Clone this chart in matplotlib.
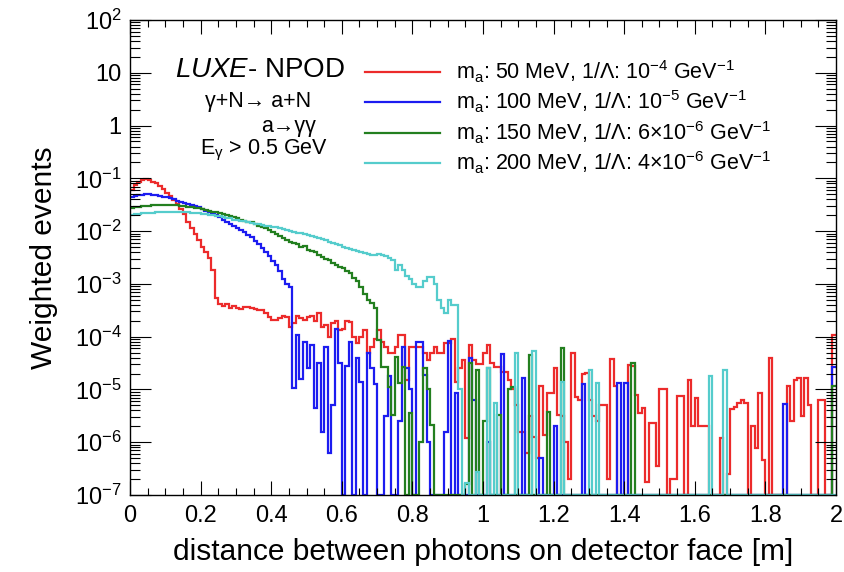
import numpy as np
import matplotlib
matplotlib.use("Agg")
from matplotlib import pyplot as plt
from matplotlib.ticker import FixedLocator, MultipleLocator, LogLocator, NullFormatter

# histogram binning (200 bins between 0 and 2 m)
x_min, x_max, n_bins = 0.0, 2.0, 200
y_min, y_max = 1e-7, 1e2

E = None  # empty bin

# log10 of weighted events per bin
red_log10 = [
    -1.22, -1.12, -1.07, -1.03, -1.02, -1.03, -1.06, -1.08, -1.15, -1.20,
    -1.28, -1.33, -1.41, -1.48, -1.58, -1.68, -1.82, -1.95, -2.05, -2.17,
    -2.30, -2.40, -2.50, -2.73, -3.27, -3.38, -3.42, -3.38, -3.45, -3.42,
    -3.45, -3.48, -3.44, -3.43, -3.45, -3.47, -3.49, -3.50, -3.55, -3.62,
    -3.68, -3.68, -3.65, -3.60, -3.62, -3.81, -3.75, -3.60, -3.65, -3.68,
    -3.62, -3.60, -3.70, -3.55, -3.81, -3.78, -4.00, -3.75, -3.70, -3.87,
    -3.85, -3.70, -3.72, -4.00, -4.12, -4.00, -3.87, -4.30, -4.20, -4.05,
    -3.87, -4.10, -4.20, -4.31, -4.31, -4.20, -3.97, -3.97, -4.82, -4.20,
    -4.20, -4.20, -4.20, -4.30, -4.44, -4.30, -4.20, -4.31, -4.31, -4.12,
    -4.12, -4.05, -4.86, -4.60, -4.44, -5.92, -4.16, -4.44, -4.52, -4.52,
    -4.30, -4.16, -4.50, -4.57, -4.57, -4.67, -4.67, -4.82, -5.00, -5.30,
    -5.80, -5.80, -6.20, -5.50, -5.90, -6.30, -4.93, -5.86, -5.07, -5.07,
    -4.60, -5.48, -5.50, -6.00, -6.70, -4.30, -5.14, -5.20, -4.70, -4.69,
    -5.20, -5.50, -5.60, -5.30, -5.30, -6.70, -4.42, -4.94, E, E,
    E, -4.53, -4.55, -5.10, -5.45, -5.35, -6.75, -5.63, -5.63, -6.45,
    -5.00, -5.00, E, -6.70, -6.70, -5.13, -5.13, E, -4.82, -5.70,
    -5.17, -5.70, -5.70, -5.70, E, E, E, -5.92, E, -6.60,
    -5.37, -5.33, -5.25, -5.20, -5.25, E, -5.70, -6.10, -5.07, -6.33,
    E, -4.40, E, E, E, E, -4.93, -5.60, -4.82, -4.79,
    -5.50, -4.79, -5.30, E, E, -5.20, -5.20, E, E, -3.97,
]

blue_log10 = [
    -1.35, -1.33, -1.32, -1.31, -1.30, -1.30, -1.31, -1.32, -1.33, -1.35,
    -1.36, -1.38, -1.40, -1.42, -1.44, -1.46, -1.48, -1.50, -1.52, -1.55,
    -1.58, -1.61, -1.64, -1.67, -1.70, -1.74, -1.78, -1.82, -1.86, -1.90,
    -1.94, -1.98, -2.02, -2.07, -2.12, -2.18, -2.25, -2.32, -2.40, -2.48,
    -2.56, -2.65, -2.75, -2.90, -3.00, -3.05, -4.97, -3.97, -4.80, -4.10,
    -4.60, -4.15, -5.35, -4.50, -5.80, -4.20, -6.20, -5.30, -3.85, -4.50,
    E, -4.55, -4.10, E, -4.40, -4.85, E, -4.30, -4.60, -4.90,
    E, E, -5.50, -4.75, E, E, -5.60, -4.20, -4.60, -5.00,
    E, -4.10, -4.10, -4.72, -6.00, E, E, E, E, -5.80,
    -4.08, E, -5.06, E, E, E, -4.40, -5.20, E, E,
    E, -6.00, E, E, E, -4.32, E, E, E, E,
    E, -4.78, E, E, E, E, -6.30, E, E, E,
    -5.70, E, E, E, E, E, E, E, -4.90, E,
    E, E, E, E, E, E, E, E, -4.87, E,
    -4.87, E, E, E, E, E, E, E, E, E,
    E, E, E, E, E, E, E, E, E, E,
    E, E, E, E, E, E, E, E, E, E,
    E, E, E, E, E, E, E, E, E, E,
    E, E, E, E, E, -5.27, E, E, E, E,
    E, E, E, E, E, E, E, E, E, -4.57,
]

green_log10 = [
    -1.56, -1.55, -1.54, -1.53, -1.52, -1.52, -1.51, -1.51, -1.50, -1.50,
    -1.50, -1.50, -1.50, -1.51, -1.52, -1.53, -1.54, -1.55, -1.56, -1.57,
    -1.58, -1.60, -1.61, -1.63, -1.64, -1.66, -1.67, -1.69, -1.71, -1.73,
    -1.76, -1.78, -1.80, -1.82, -1.83, -1.86, -1.90, -1.92, -1.94, -1.98,
    -2.02, -2.05, -2.10, -2.13, -2.16, -2.20, -2.22, -2.25, -2.30, -2.28,
    -2.35, -2.38, -2.40, -2.45, -2.49, -2.52, -2.55, -2.60, -2.65, -2.68,
    -2.70, -2.75, -2.80, -2.88, -2.95, -3.05, -3.20, -3.30, -3.36, -3.45,
    -4.06, -4.57, -4.57, -4.95, -5.48, -4.38, -4.87, -4.57, E, -5.45,
    E, E, -6.00, -4.60, -5.00, -5.67, E, E, E, E,
    E, E, E, E, E, -6.80, -4.50, E, -4.63, E,
    -5.60, -4.60, E, E, -5.48, E, E, -5.00, -4.95, E,
    E, E, E, -4.34, E, E, E, E, -5.42, E,
    E, E, -4.21, E, E, E, E, E, E, E,
    E, E, E, E, E, E, E, E, E, E,
    E, E, -4.50, E, E, E, E, E, E, E,
    E, E, E, E, E, E, E, E, E, E,
    E, E, E, E, E, E, E, E, E, E,
    E, E, E, E, E, E, E, E, E, E,
    E, E, E, E, E, E, E, E, E, E,
    E, E, E, E, E, E, E, E, E, -4.93,
]

cyan_log10 = [
    -1.69, -1.68, -1.67, -1.66, -1.66, -1.65, -1.65, -1.64, -1.64, -1.63,
    -1.63, -1.63, -1.63, -1.63, -1.63, -1.64, -1.64, -1.65, -1.65, -1.66,
    -1.67, -1.68, -1.69, -1.70, -1.71, -1.72, -1.73, -1.75, -1.76, -1.78,
    -1.79, -1.80, -1.81, -1.82, -1.84, -1.86, -1.87, -1.88, -1.90, -1.91,
    -1.92, -1.93, -1.95, -1.96, -1.98, -1.99, -2.01, -2.03, -2.04, -2.06,
    -2.08, -2.10, -2.12, -2.13, -2.15, -2.17, -2.20, -2.22, -2.25, -2.27,
    -2.30, -2.32, -2.34, -2.36, -2.38, -2.40, -2.42, -2.44, -2.45, -2.46,
    -2.44, -2.46, -2.48, -2.50, -2.55, -2.73, -2.65, -2.73, -2.85, -2.90,
    -3.00, -3.05, -3.05, -2.95, -2.87, -2.87, -3.00, -3.30, -3.45, -3.55,
    -3.30, -3.40, -3.40, -5.00, E, -6.77, E, E, -6.57, E,
    E, -4.60, E, -5.25, E, E, E, E, E, -4.30,
    E, E, E, E, -4.28, E, E, E, E, E,
    E, E, -4.86, E, E, E, E, E, E, E,
    -4.63, E, -4.88, E, E, E, E, E, E, E,
    E, E, E, E, E, E, E, E, E, E,
    E, E, E, E, E, E, E, E, E, E,
    E, E, E, E, -4.74, E, E, E, -4.63, E,
    E, E, E, E, E, E, E, E, E, E,
    E, E, E, E, E, E, E, E, E, E,
    E, E, E, E, E, E, E, E, E, E,
]

labels = [
    r"m$_\mathregular{a}$: 50 MeV, 1/Λ: 10$^\mathregular{-4}$ GeV$^\mathregular{-1}$",
    r"m$_\mathregular{a}$: 100 MeV, 1/Λ: 10$^\mathregular{-5}$ GeV$^\mathregular{-1}$",
    r"m$_\mathregular{a}$: 150 MeV, 1/Λ: 6×10$^\mathregular{-6}$ GeV$^\mathregular{-1}$",
    r"m$_\mathregular{a}$: 200 MeV, 1/Λ: 4×10$^\mathregular{-6}$ GeV$^\mathregular{-1}$",
]
colors = ["#ec2b2b", "#1c1cf0", "#237f1f", "#55cccc"]

x_ticks = [0.0, 0.2, 0.4, 0.6, 0.8, 1.0, 1.2, 1.4, 1.6, 1.8, 2.0]
x_tick_labels = ["0", "0.2", "0.4", "0.6", "0.8", "1", "1.2", "1.4", "1.6", "1.8", "2"]
y_ticks = [1e-7, 1e-6, 1e-5, 1e-4, 1e-3, 1e-2, 1e-1, 1, 10, 100]
y_tick_labels = [r"10$^\mathregular{-7}$", r"10$^\mathregular{-6}$", r"10$^\mathregular{-5}$",
                 r"10$^\mathregular{-4}$", r"10$^\mathregular{-3}$", r"10$^\mathregular{-2}$",
                 r"10$^\mathregular{-1}$", "1", "10", r"10$^\mathregular{2}$"]


def to_counts(logs):
    return np.array([10.0 ** v if v is not None else 0.0 for v in logs])


plt.rcParams["font.family"] = ["Liberation Sans", "DejaVu Sans"]
plt.rcParams["mathtext.fontset"] = "custom"
plt.rcParams["mathtext.rm"] = "Liberation Sans"
plt.rcParams["mathtext.it"] = "Liberation Sans:italic"
plt.rcParams["mathtext.bf"] = "Liberation Sans:bold"

fig = plt.figure(figsize=(8.45, 5.72), dpi=100)
ax = fig.add_axes([130 / 845, 1 - 495 / 572, 706 / 845, 475 / 572])

edges = np.linspace(x_min, x_max, n_bins + 1)
handles = []
for logs, col in zip([red_log10, blue_log10, green_log10, cyan_log10], colors):
    counts = to_counts(logs)
    # empty bins sit on the frame floor like in ROOT
    counts = np.where(counts > 0, counts, y_min)
    ax.stairs(counts, edges, baseline=None, color=col, lw=1.6)
    handles.append(plt.Line2D([], [], color=col, lw=1.6))

ax.set_yscale("log")
ax.set_xlim(x_min, x_max)
ax.set_ylim(y_min, y_max)

ax.yaxis.set_major_locator(FixedLocator(y_ticks))
ax.set_yticklabels(y_tick_labels)
ax.yaxis.set_minor_locator(LogLocator(base=10, subs=np.arange(2, 10), numticks=20))
ax.yaxis.set_minor_formatter(NullFormatter())
ax.xaxis.set_major_locator(FixedLocator(x_ticks))
ax.set_xticklabels(x_tick_labels)
ax.xaxis.set_minor_locator(MultipleLocator(0.05))

ax.tick_params(which="both", direction="in", top=True, right=True, width=0.8, labelsize=17)
ax.tick_params(axis="y", which="major", length=15, pad=6)
ax.tick_params(axis="y", which="minor", length=7.5)
ax.tick_params(axis="x", which="major", length=10, pad=7)
ax.tick_params(axis="x", which="minor", length=5)
for sp in ax.spines.values():
    sp.set_linewidth(1.0)

ax.set_xlabel("distance between photons on detector face [m]", fontsize=21.5, labelpad=8)
ax.set_ylabel("Weighted events", fontsize=21.5, labelpad=12)

ax.text(0.184, 0.895, r"$\mathit{LUXE}$- NPOD", transform=ax.transAxes,
        ha="center", va="center", fontsize=20)
ax.text(0.181, 0.828, "γ+N→ a+N", transform=ax.transAxes,
        ha="center", va="center", fontsize=15.5)
ax.text(0.224, 0.776, "a→γγ", transform=ax.transAxes,
        ha="center", va="center", fontsize=15.5)
ax.text(0.19, 0.726, r"E$_\mathregular{γ}$ > 0.5 GeV", transform=ax.transAxes,
        ha="center", va="center", fontsize=15.5)

ax.legend(handles, labels, loc="upper left", bbox_to_anchor=(0.333, 0.919),
          frameon=False, fontsize=15.5, handlelength=3.5, handletextpad=0.7,
          labelspacing=0.18, borderpad=0, borderaxespad=0)

fig.savefig("out.png", dpi=100)
